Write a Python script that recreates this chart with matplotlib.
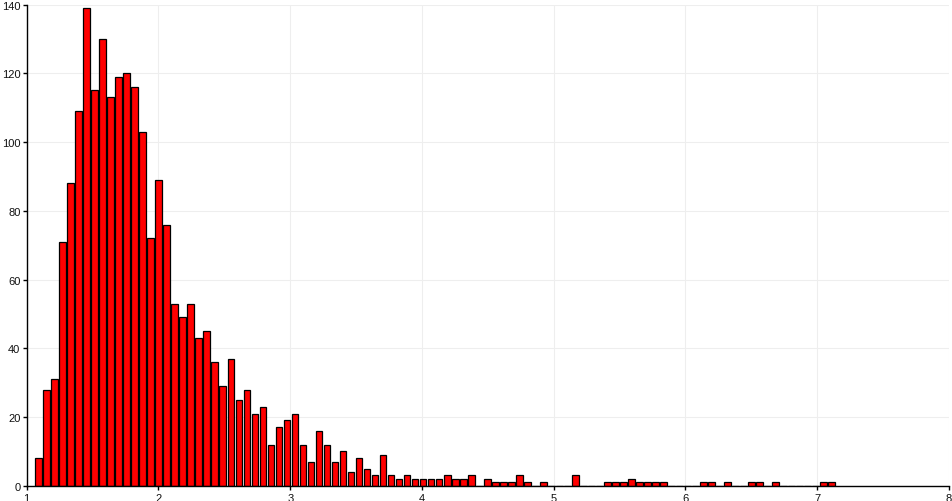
import numpy as np
import matplotlib
matplotlib.use("Agg")
import matplotlib.pyplot as plt

# histogram counts (100 equal-width bins spanning the data range)
counts = [8, 28, 31, 71, 88, 109, 139, 115, 130, 113,
          119, 120, 116, 103, 72, 89, 76, 53, 49, 53,
          43, 45, 36, 29, 37, 25, 28, 21, 23, 12,
          17, 19, 21, 12, 7, 16, 12, 7, 10, 4,
          8, 5, 3, 9, 3, 2, 3, 2, 2, 2,
          2, 3, 2, 2, 3, 0, 2, 1, 1, 1,
          3, 1, 0, 1, 0, 0, 0, 3, 0, 0,
          0, 1, 1, 1, 2, 1, 1, 1, 1, 0,
          0, 0, 0, 1, 1, 0, 1, 0, 0, 1,
          1, 0, 1, 0, 0, 0, 0, 0, 1, 1]
data_min = 1.055
data_max = 7.135
x_ticks = [1, 2, 3, 4, 5, 6, 7, 8]
y_ticks = [0, 20, 40, 60, 80, 100, 120, 140]

plt.rcParams['font.family'] = ['Liberation Sans', 'DejaVu Sans']

W, H = 952, 502
fig = plt.figure(figsize=(W / 100, H / 100), dpi=100)
left_px, right_px, top_px, bottom_px = 26.7, 949.0, 5.5, 486.8
ax = fig.add_axes([left_px / W, 1 - bottom_px / H,
                   (right_px - left_px) / W, (bottom_px - top_px) / H])

edges = np.linspace(data_min, data_max, len(counts) + 1)
binw = edges[1] - edges[0]
px_per_unit = (right_px - left_px) / 7.0
gap = 1.3 / px_per_unit
ax.bar(edges[:-1] + gap, counts, width=binw - gap, align='edge',
       color='#ff0000', edgecolor='black', linewidth=0.9, zorder=3)

ax.set_xlim(1, 8)
ax.set_ylim(0, 140)
ax.set_xticks(x_ticks)
ax.set_yticks(y_ticks)
ax.set_xticklabels([str(v) for v in x_ticks])
ax.set_yticklabels([str(v) for v in y_ticks])
ax.grid(True, color='#eeeeee', linewidth=0.8, zorder=0)
ax.set_axisbelow(True)
for s in ['top', 'right']:
    ax.spines[s].set_visible(False)
for s in ['left', 'bottom']:
    ax.spines[s].set_color('black')
    ax.spines[s].set_linewidth(1.0)
    ax.spines[s].set_zorder(4)
ax.tick_params(axis='both', length=3, width=1.0, color='black',
               labelsize=8, labelcolor='#111111', pad=1.5)
ax.tick_params(axis='x', pad=2)

fig.savefig('out.png', dpi=100, facecolor='white')
